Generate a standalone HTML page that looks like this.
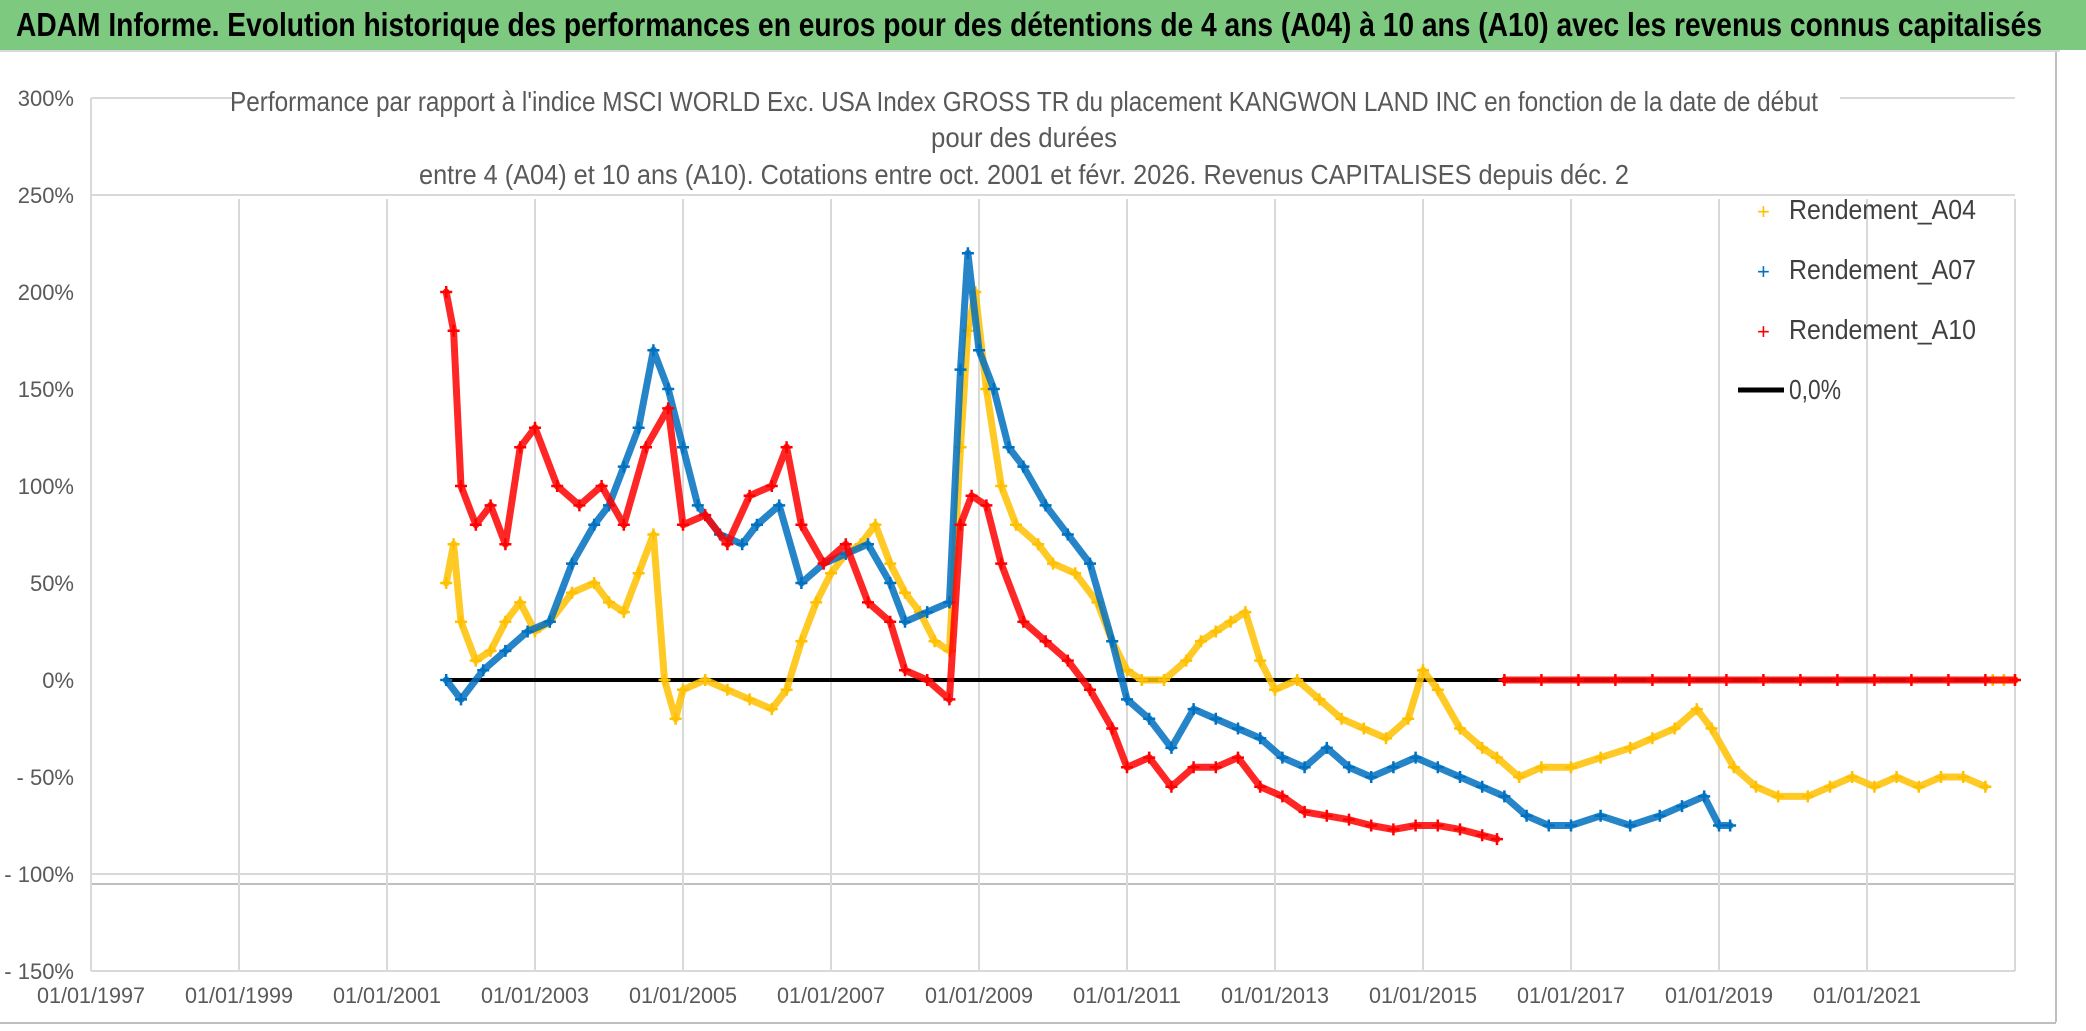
<!DOCTYPE html>
<html><head><meta charset="utf-8"><style>
html,body{margin:0;padding:0;background:#fff;}
body{width:2086px;height:1031px;overflow:hidden;position:relative;font-family:"Liberation Sans Narrow","Liberation Sans",sans-serif;}
</style></head><body>
<svg id="chart" width="2086" height="1031" xmlns="http://www.w3.org/2000/svg" style="position:absolute;left:0;top:0">
<rect x="0" y="0" width="2086" height="50" fill="#7DC97F"/>
<line x1="0" y1="51" x2="2060" y2="51" stroke="#d9d9d9" stroke-width="2"/>
<text x="16" y="36" font-size="33" font-weight="bold" fill="#000" textLength="2026" lengthAdjust="spacingAndGlyphs">ADAM Informe. Evolution historique des performances en euros pour des détentions de 4 ans (A04) à 10 ans (A10) avec les revenus connus capitalisés</text>
<line x1="2056" y1="52" x2="2056" y2="1022" stroke="#bfbfbf" stroke-width="2"/>
<line x1="0" y1="1023" x2="2056" y2="1023" stroke="#bfbfbf" stroke-width="2"/>
<g id="grid"></g>
<g id="series"></g>
<text x="1024" y="111" font-size="28" fill="#595959" text-anchor="middle" textLength="1588" lengthAdjust="spacingAndGlyphs">Performance par rapport à l'indice MSCI WORLD Exc. USA Index GROSS TR  du placement KANGWON LAND INC en fonction de la date de début</text>
<text x="1024" y="147" font-size="28" fill="#595959" text-anchor="middle" textLength="186" lengthAdjust="spacingAndGlyphs">pour des durées</text>
<text x="1024" y="184" font-size="28" fill="#595959" text-anchor="middle" textLength="1210" lengthAdjust="spacingAndGlyphs">entre 4 (A04) et 10 ans (A10). Cotations entre oct. 2001 et févr. 2026. Revenus CAPITALISES depuis déc. 2</text>
<g font-size="28" fill="#404040">
<g><text x="1757" y="219" fill="#FFC000" font-size="22">+</text><text x="1789" y="219" textLength="187" lengthAdjust="spacingAndGlyphs">Rendement_A04</text></g>
<g><text x="1757" y="279" fill="#0070C0" font-size="22">+</text><text x="1789" y="279" textLength="187" lengthAdjust="spacingAndGlyphs">Rendement_A07</text></g>
<g><text x="1757" y="339" fill="#FF0000" font-size="22">+</text><text x="1789" y="339" textLength="187" lengthAdjust="spacingAndGlyphs">Rendement_A10</text></g>
<g><line x1="1738" y1="390" x2="1784" y2="390" stroke="#000" stroke-width="5"/><text x="1789" y="399" textLength="52" lengthAdjust="spacingAndGlyphs">0,0%</text></g>
</g>
</svg>
<script>
const yTicks=[300,250,200,150,100,50,0,-50,-100,-150];
const yTickLabels=["300%","250%","200%","150%","100%","50%","0%","- 50%","- 100%","- 150%"];
const xTickYears=[1997,1999,2001,2003,2005,2007,2009,2011,2013,2015,2017,2019,2021];
const xTickLabels=["01/01/1997","01/01/1999","01/01/2001","01/01/2003","01/01/2005","01/01/2007","01/01/2009","01/01/2011","01/01/2013","01/01/2015","01/01/2017","01/01/2019","01/01/2021"];
const a04Years=[2001.8,2001.9,2002.0,2002.2,2002.4,2002.6,2002.8,2003.0,2003.2,2003.5,2003.8,2004.0,2004.2,2004.4,2004.6,2004.75,2004.9,2005.0,2005.3,2005.6,2005.9,2006.2,2006.4,2006.6,2006.8,2007.0,2007.2,2007.4,2007.6,2007.8,2008.0,2008.2,2008.4,2008.6,2008.75,2008.85,2008.95,2009.1,2009.3,2009.5,2009.8,2010.0,2010.3,2010.6,2010.8,2011.0,2011.2,2011.5,2011.8,2012.0,2012.2,2012.4,2012.6,2012.8,2013.0,2013.3,2013.6,2013.9,2014.2,2014.5,2014.8,2015.0,2015.2,2015.5,2015.8,2016.0,2016.3,2016.6,2017.0,2017.4,2017.8,2018.1,2018.4,2018.7,2018.9,2019.2,2019.5,2019.8,2020.2,2020.5,2020.8,2021.1,2021.4,2021.7,2022.0,2022.3,2022.6];
const a04Values=[50,70,30,10,15,30,40,25,30,45,50,40,35,55,75,0,-20,-5,0,-5,-10,-15,-5,20,40,55,65,70,80,60,45,35,20,15,120,180,200,150,100,80,70,60,55,40,20,5,0,0,10,20,25,30,35,10,-5,0,-10,-20,-25,-30,-20,5,-5,-25,-35,-40,-50,-45,-45,-40,-35,-30,-25,-15,-25,-45,-55,-60,-60,-55,-50,-55,-50,-55,-50,-50,-55];
const a04ZeroYears=[2022.7,2022.85,2023.0];
const a04ZeroValues=[0,0,0];
const a07Years=[2001.8,2002.0,2002.3,2002.6,2002.9,2003.2,2003.5,2003.8,2004.0,2004.2,2004.4,2004.6,2004.8,2005.0,2005.2,2005.5,2005.8,2006.0,2006.3,2006.6,2006.9,2007.2,2007.5,2007.8,2008.0,2008.3,2008.6,2008.75,2008.85,2009.0,2009.2,2009.4,2009.6,2009.9,2010.2,2010.5,2010.8,2011.0,2011.3,2011.6,2011.9,2012.2,2012.5,2012.8,2013.1,2013.4,2013.7,2014.0,2014.3,2014.6,2014.9,2015.2,2015.5,2015.8,2016.1,2016.4,2016.7,2017.0,2017.4,2017.8,2018.2,2018.5,2018.8,2019.0,2019.15];
const a07Values=[0,-10,5,15,25,30,60,80,90,110,130,170,150,120,90,75,70,80,90,50,60,65,70,50,30,35,40,160,220,170,150,120,110,90,75,60,20,-10,-20,-35,-15,-20,-25,-30,-40,-45,-35,-45,-50,-45,-40,-45,-50,-55,-60,-70,-75,-75,-70,-75,-70,-65,-60,-75,-75];
const a10Years=[2001.8,2001.9,2002.0,2002.2,2002.4,2002.6,2002.8,2003.0,2003.3,2003.6,2003.9,2004.2,2004.5,2004.8,2005.0,2005.3,2005.6,2005.9,2006.2,2006.4,2006.6,2006.9,2007.2,2007.5,2007.8,2008.0,2008.3,2008.6,2008.75,2008.9,2009.1,2009.3,2009.6,2009.9,2010.2,2010.5,2010.8,2011.0,2011.3,2011.6,2011.9,2012.2,2012.5,2012.8,2013.1,2013.4,2013.7,2014.0,2014.3,2014.6,2014.9,2015.2,2015.5,2015.8,2016.0];
const a10Values=[200,180,100,80,90,70,120,130,100,90,100,80,120,140,80,85,70,95,100,120,80,60,70,40,30,5,0,-10,80,95,90,60,30,20,10,-5,-25,-45,-40,-55,-45,-45,-40,-55,-60,-68,-70,-72,-75,-77,-75,-75,-77,-80,-82];
const a10ZeroYears=[2016.1,2016.6,2017.1,2017.6,2018.1,2018.6,2019.1,2019.6,2020.1,2020.6,2021.1,2021.6,2022.1,2022.6,2023.0];
const a10ZeroValues=[0,0,0,0,0,0,0,0,0,0,0,0,0,0,0];
const zeroLineYears=[2001.8,2023.0];

const NS="http://www.w3.org/2000/svg";
function xs(yr){return 91+(yr-1997)*74;}
function ys(v){return 680-v*97/50;}
function mk(tag,attrs,parent){const e=document.createElementNS(NS,tag);for(const k in attrs)e.setAttribute(k,attrs[k]);parent.appendChild(e);return e;}
const grid=document.getElementById('grid');
const ser=document.getElementById('series');
const right=xs(2023);
for(const v of [300,250]){
  const l=mk('line',{x1:91,y1:ys(v),x2:v===300?233:right,y2:ys(v),stroke:'#d9d9d9','stroke-width':2},grid);
  
  
}
mk('line',{x1:1840,y1:ys(300),x2:right,y2:ys(300),stroke:'#d9d9d9','stroke-width':2},grid);
for(const v of [-100]){
  const l=mk('line',{x1:91,y1:ys(v),x2:right,y2:ys(v),stroke:'#d9d9d9','stroke-width':2},grid);
  
  
}
mk('line',{x1:91,y1:ys(-100)+10,x2:right,y2:ys(-100)+10,stroke:'#bfbfbf','stroke-width':2},grid);
mk('line',{x1:91,y1:ys(-150),x2:right,y2:ys(-150),stroke:'#d9d9d9','stroke-width':2},grid);
mk('line',{x1:91,y1:ys(300),x2:91,y2:ys(-150),stroke:'#d9d9d9','stroke-width':2},grid);
xTickYears.forEach((yr,i)=>{
  if(i>0){
    const l=mk('line',{x1:xs(yr),y1:ys(250)+4,x2:xs(yr),y2:ys(-150),stroke:'#d9d9d9','stroke-width':2},grid);
    
    
  }
  const t=mk('text',{x:xs(yr),y:1003,'font-size':22,fill:'#595959','text-anchor':'middle',textLength:108,lengthAdjust:'spacingAndGlyphs'},grid);
  t.textContent=xTickLabels[i];
  
  
});
mk('line',{x1:right,y1:ys(250)+4,x2:right,y2:ys(-150),stroke:'#d9d9d9','stroke-width':2},grid);
yTicks.forEach((v,i)=>{
  const t=mk('text',{x:74,y:ys(v)+8,'font-size':22,fill:'#595959','text-anchor':'end'},grid);
  t.textContent=yTickLabels[i];
  
  
});
function series(years,vals,color,name){
  const g=mk('g',{},ser);
  
  
  const d=years.map((yr,i)=>(i?'L':'M')+xs(yr).toFixed(1)+' '+ys(vals[i]).toFixed(1)).join(' ');
  mk('path',{d:d,fill:'none',stroke:color,'stroke-width':7,'stroke-linejoin':'round','stroke-linecap':'round','stroke-opacity':0.85},g);
  years.forEach((yr,i)=>{
    const x=xs(yr),y=ys(vals[i]);
    const p=mk('path',{d:`M${x-6} ${y}H${x+6}M${x} ${y-6}V${y+6}`,stroke:color,'stroke-width':2.5},g);
    
    
  });
}
const zl=mk('line',{x1:xs(zeroLineYears[0]),y1:ys(0),x2:xs(zeroLineYears[1]),y2:ys(0),stroke:'#000','stroke-width':4},ser);


series(a04Years,a04Values,'#FFC000','series-a04');
series(a04ZeroYears,a04ZeroValues,'#FFC000','series-a04-tail');
series(a07Years,a07Values,'#0070C0','series-a07');
series(a10Years,a10Values,'#FF0000','series-a10');
series(a10ZeroYears,a10ZeroValues,'#FF0000','series-a10-tail');
</script>
</body></html>
